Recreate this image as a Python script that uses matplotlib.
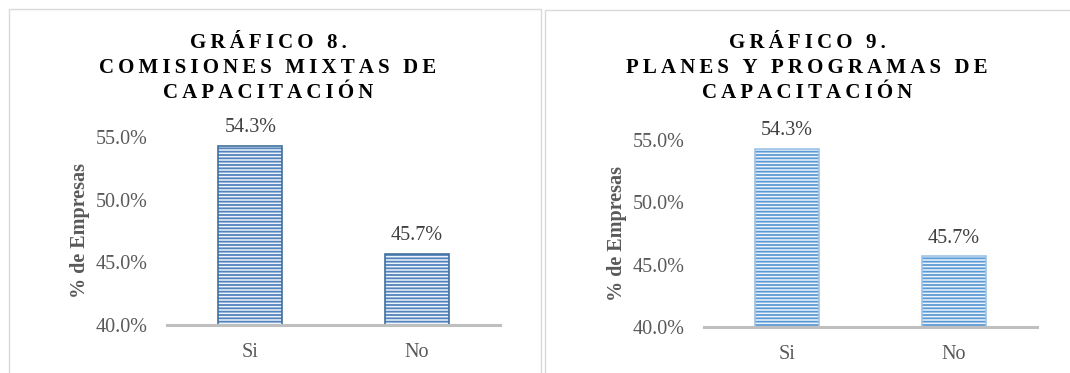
import matplotlib.pyplot as plt
from matplotlib.patches import Rectangle

categorias = ['Si', 'No']
comisiones = [0.543, 0.457]
planes = [0.543, 0.457]
titulo8 = 'GRÁFICO 8.\nCOMISIONES MIXTAS DE\nCAPACITACIÓN'
titulo9 = 'GRÁFICO 9.\nPLANES Y PROGRAMAS DE\nCAPACITACIÓN'

plt.rcParams['font.family'] = ['Liberation Serif', 'DejaVu Serif']
plt.rcParams['hatch.linewidth'] = 1.3


def espaciar(t):
    # letter spacing like the Excel title (thin spaces)
    return '\n'.join('\u2009'.join(line) for line in t.split('\n'))


fig = plt.figure(figsize=(10.7, 3.73), dpi=100)

# panel frames
fig.patches.append(Rectangle((9/1070, -0.1), 532/1070, 1 - 9/373 + 0.1, transform=fig.transFigure,
                             fill=False, edgecolor='#d9d9d9', lw=1))
fig.patches.append(Rectangle((545/1070, -0.1), 0.6, 1 - 10/373 + 0.1, transform=fig.transFigure,
                             fill=False, edgecolor='#d9d9d9', lw=1))


def panel(rect, vals, titulo, tx, edge, hatchc):
    ax = fig.add_axes(rect)
    x = range(len(categorias))
    ax.bar(x, vals, 0.385, color='#eef4fb', edgecolor=hatchc, hatch='-----', lw=0, zorder=2)
    ax.bar(x, vals, 0.385, fill=False, edgecolor=edge, lw=1.2, zorder=3)
    ax.set_ylim(0.40, 0.55)
    ax.set_xlim(-0.5, 1.5)
    ax.set_yticks([0.40, 0.45, 0.50, 0.55])
    ax.set_yticklabels(['%.1f%%' % (v * 100) for v in [0.40, 0.45, 0.50, 0.55]])
    ax.set_xticks(list(x))
    ax.set_xticklabels(categorias)
    ax.tick_params(length=0, labelsize=14.5, labelcolor='#595959')
    ax.tick_params(axis='x', pad=13)
    ax.tick_params(axis='y', pad=14)
    for s in ['top', 'right', 'left']:
        ax.spines[s].set_visible(False)
    ax.spines['bottom'].set_color('#bfbfbf')
    ax.spines['bottom'].set_linewidth(2.2)
    ax.spines['bottom'].set_zorder(4)
    ax.set_ylabel('% de Empresas', fontsize=14.5, fontweight='bold', color='#595959', labelpad=4)
    for i, v in enumerate(vals):
        ax.annotate('%.1f%%' % (v * 100), (i, v), xytext=(0, 6), textcoords='offset points',
                    ha='center', va='bottom', fontsize=14.5, color='#404040')
    fig.text(tx, 1 - 68/373, espaciar(titulo), ha='center', va='center', fontsize=15,
             fontweight='bold', color='black', linespacing=1.35)
    return ax


panel([167/1070, 1 - 325/373, 333/1070, 188/373], comisiones, titulo8, 268/1070, '#41719c', '#5283bd')
panel([704/1070, 1 - 327/373, 333/1070, 187/373], planes, titulo9, 807/1070, '#9dc3e6', '#5b9bd5')

fig.savefig('out.png', dpi=100)
